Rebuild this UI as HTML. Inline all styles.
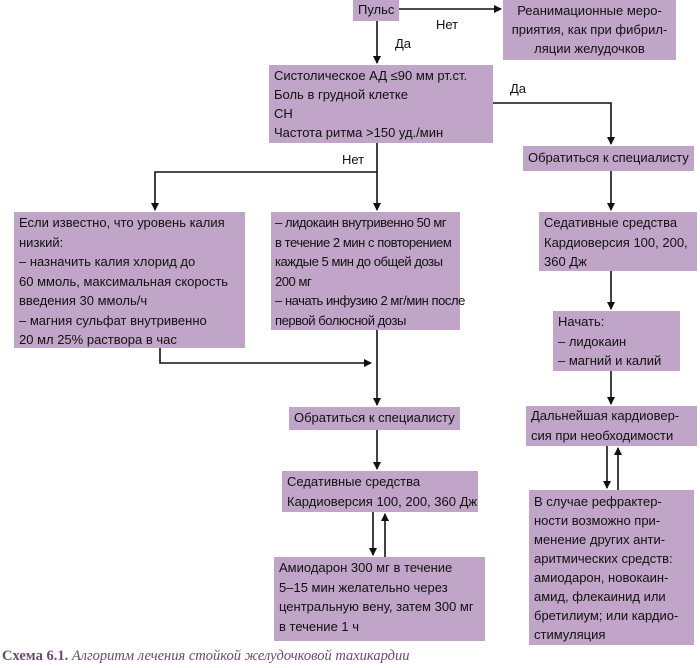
<!DOCTYPE html>
<html><head><meta charset="utf-8"><style>
body{margin:0;width:700px;height:668px;background:#fff;position:relative;overflow:hidden;font-family:"Liberation Sans",sans-serif;}
.b{position:absolute;background:#c0a5c8;color:#111;font-size:13px;line-height:19.5px;white-space:nowrap;box-sizing:border-box;padding:2px 5px;}
.c{text-align:center}
.l{position:absolute;font-size:13px;color:#111}
svg{position:absolute;left:0;top:0}
</style></head><body>
<div class="b" style="left:353px;top:0;width:46px;height:21px;padding:0 5px;">Пульс</div>
<div class="b c" style="left:503px;top:0;width:173px;height:60px;line-height:19px;padding-top:1px">Реанимационные меро-<br>приятия, как при фибрил-<br>ляции желудочков</div>
<div class="b" style="left:269px;top:65px;width:224px;height:78px;line-height:19px;padding-top:1px">Систолическое АД ≤90 мм рт.ст.<br>Боль в грудной клетке<br>СН<br>Частота ритма &gt;150 уд./мин</div>
<div class="b" style="left:523px;top:146px;width:171px;height:25px;">Обратиться к специалисту</div>
<div class="b" style="left:14px;top:212px;width:231px;height:136px;padding-top:1px">Если известно, что уровень калия<br>низкий:<br>– назначить калия хлорид до<br>60 ммоль, максимальная скорость<br>введения 30 ммоль/ч<br>– магния сульфат внутривенно<br>20 мл 25% раствора в час</div>
<div class="b" style="left:271px;top:212px;width:189px;height:118px;padding-top:1px;padding-left:4px;letter-spacing:-0.45px">– лидокаин внутривенно 50 мг<br>в течение 2 мин с повторением<br>каждые 5 мин до общей дозы<br>200 мг<br>– начать инфузию 2 мг/мин после<br>первой болюсной дозы</div>
<div class="b" style="left:289px;top:407px;width:171px;height:23px;padding-top:1px">Обратиться к специалисту</div>
<div class="b" style="left:282px;top:471px;width:196px;height:41px;padding-top:1px">Седативные средства<br>Кардиоверсия 100, 200, 360 Дж</div>
<div class="b" style="left:274px;top:557px;width:211px;height:84px;line-height:19.5px;padding-top:1px">Амиодарон 300 мг в течение<br>5–15 мин желательно через<br>центральную вену, затем 300 мг<br>в течение 1 ч</div>
<div class="b" style="left:539px;top:212px;width:158px;height:59px;padding-top:1px">Седативные средства<br>Кардиоверсия 100, 200,<br>360 Дж</div>
<div class="b" style="left:553px;top:311px;width:127px;height:60px;padding-top:1px">Начать:<br>– лидокаин<br>– магний и калий</div>
<div class="b" style="left:526px;top:406px;width:171px;height:40px;padding-top:0">Дальнейшая кардиовер-<br>сия при необходимости</div>
<div class="b" style="left:529px;top:490px;width:165px;height:155px;line-height:19px;padding-top:2px">В случае рефрактер-<br>ности возможно при-<br>менение других анти-<br>аритмических средств:<br>амиодарон, новокаин-<br>амид, флекаинид или<br>бретилиум; или кардио-<br>стимуляция</div>
<div class="l" style="left:436px;top:17px">Нет</div>
<div class="l" style="left:395px;top:36px">Да</div>
<div class="l" style="left:510px;top:81px">Да</div>
<div class="l" style="left:342px;top:152px">Нет</div>
<div style="position:absolute;left:2px;top:648px;font-family:'Liberation Serif',serif;font-size:14.5px;color:#6b4a70;white-space:nowrap"><b>Схема 6.1.</b> <i>Алгоритм лечения стойкой желудочковой тахикардии</i></div>
<svg width="700" height="668">
<defs><marker id="a" markerWidth="8" markerHeight="8" refX="7" refY="4" orient="auto" markerUnits="userSpaceOnUse"><path d="M0,0 L8,4 L0,8z" fill="#111"/></marker></defs>
<g stroke="#111" stroke-width="1.6" fill="none" marker-end="url(#a)">
<path d="M399,9 H501"/>
<path d="M377,21 V63"/>
<path d="M493,103 H611 V144"/>
<path d="M377,143 V210"/>
<path d="M377,172 H155 V210"/>
<path d="M611,171 V210"/>
<path d="M160,348 V363 H371"/>
<path d="M377,330 V405"/>
<path d="M377,430 V469"/>
<path d="M373,512 V555"/>
<path d="M385,557 V514"/>
<path d="M611,271 V309"/>
<path d="M611,371 V404"/>
<path d="M607,446 V488"/>
<path d="M618,490 V448"/>
</g>
</svg>
</body></html>
